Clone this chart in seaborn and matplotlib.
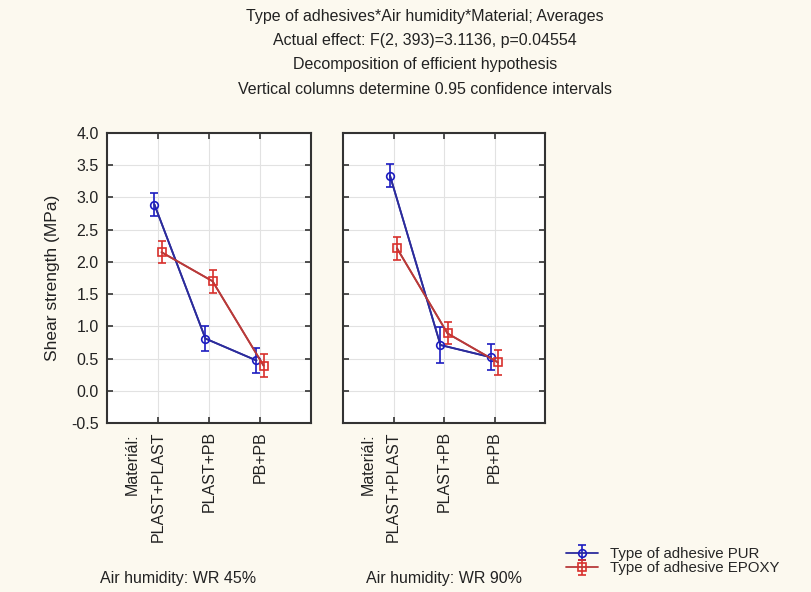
import numpy as np
import pandas as pd
import matplotlib.pyplot as plt
import matplotlib.transforms as mtransforms
import seaborn as sns

# values
materials = ['PLAST+PLAST', 'PLAST+PB', 'PB+PB']
humidity = ['Air humidity: WR 45%', 'Air humidity: WR 90%']
adhesives = ['Type of adhesive PUR', 'Type of adhesive EPOXY']

pur_45 = [2.89, 0.81, 0.47]
pur_45_ci = [0.18, 0.20, 0.20]
epoxy_45 = [2.15, 1.70, 0.39]
epoxy_45_ci = [0.17, 0.18, 0.18]

pur_90 = [3.34, 0.71, 0.52]
pur_90_ci = [0.18, 0.28, 0.20]
epoxy_90 = [2.21, 0.89, 0.44]
epoxy_90_ci = [0.18, 0.17, 0.19]

title_lines = ['Type of adhesives*Air humidity*Material; Averages',
               'Actual effect: F(2, 393)=3.1136, p=0.04554',
               'Decomposition of efficient hypothesis',
               'Vertical columns determine 0.95 confidence intervals']

rows = []
for h, vals in [(humidity[0], [(adhesives[0], pur_45, pur_45_ci), (adhesives[1], epoxy_45, epoxy_45_ci)]),
                (humidity[1], [(adhesives[0], pur_90, pur_90_ci), (adhesives[1], epoxy_90, epoxy_90_ci)])]:
    for a, m, c in vals:
        for i, mat in enumerate(materials):
            rows.append({'humidity': h, 'adhesive': a, 'material': mat, 'idx': i, 'mean': m[i], 'ci': c[i]})
df = pd.DataFrame(rows)

sns.set_style('white')
plt.rcParams['font.family'] = ['Liberation Sans', 'DejaVu Sans']

bg = '#fcf9ef'
txt = '#222222'
line_col = {adhesives[0]: '#2c2c9c', adhesives[1]: '#b83a3a'}
mark_col = {adhesives[0]: '#1c1cc0', adhesives[1]: '#d8302c'}
markers = {adhesives[0]: 'o', adhesives[1]: 's'}
shift = {adhesives[0]: -0.07, adhesives[1]: 0.07}

fig = plt.figure(figsize=(8.11, 5.92), dpi=100, facecolor=bg)
ax1 = fig.add_axes([107/811, 1-423/592, 204/811, 290/592])
ax2 = fig.add_axes([343/811, 1-423/592, 202/811, 290/592])

handles = []
for ax, h in [(ax1, humidity[0]), (ax2, humidity[1])]:
    sub = df[df.humidity == h].copy()
    sub['x'] = sub['idx'] + sub['adhesive'].map(shift)
    sns.lineplot(data=sub, x='x', y='mean', hue='adhesive', palette=line_col,
                 ax=ax, legend=False, lw=1.3, sort=False)
    for a in adhesives:
        s = sub[sub.adhesive == a]
        eb = ax.errorbar(s['x'], s['mean'], yerr=s['ci'], fmt='-' + markers[a], ms=5.5,
                         color=line_col[a], lw=1.3,
                         mfc='none', mec=mark_col[a], mew=1.2, ecolor=mark_col[a],
                         elinewidth=1.2, capsize=3, capthick=1.2, label=a, zorder=4)
        if ax is ax1:
            handles.append(eb)
    ax.set_xlim(-1, 3)
    ax.set_ylim(-0.5, 4.0)
    ax.set_yticks(np.arange(-0.5, 4.01, 0.5))
    ax.set_xticks(range(len(materials)))
    ax.set_xticklabels(materials, rotation=90, fontsize=11.5, color=txt)
    ax.grid(True, color='#e2e2e2', lw=0.8)
    ax.set_axisbelow(True)
    ax.set_facecolor('white')
    ax.tick_params(direction='in', length=4, width=1.2, color='#333333', pad=6,
                   top=True, bottom=True, left=True, right=True)
    for sp in ax.spines.values():
        sp.set_visible(True)
        sp.set_color('#333333')
        sp.set_linewidth(1.5)
    ax.set_xlabel('')
    ax.set_ylabel('')
    trans = mtransforms.blended_transform_factory(ax.transData, ax.transAxes)
    ax.text(-0.5, -0.035, 'Materiál:', transform=trans, rotation=90, ha='center',
            va='top', fontsize=11.5, color=txt)

ax1.set_yticklabels([f'{v:.1f}' for v in np.arange(-0.5, 4.01, 0.5)], fontsize=11.5, color=txt)
ax1.tick_params(axis='y', pad=6)
ax1.set_ylabel('Shear strength (MPa)', fontsize=12.5, color=txt, labelpad=8)
ax2.set_yticklabels([])

fig.text(178/811, 1-578/592, humidity[0], ha='center', va='center', fontsize=11.5, color=txt)
fig.text(444/811, 1-578/592, humidity[1], ha='center', va='center', fontsize=11.5, color=txt)

for i, t in enumerate(title_lines):
    fig.text(425/811, 1-(16 + 24.5*i)/592, t, ha='center', va='center', fontsize=11.5, color=txt)

fig.legend(handles, adhesives, loc='upper left', bbox_to_anchor=(566/811, 1-547/592),
           frameon=False, fontsize=10.8, handlelength=2.1, labelspacing=0.02,
           handletextpad=0.8, borderaxespad=0, borderpad=0)

fig.savefig('out.png', dpi=100, facecolor=bg)
